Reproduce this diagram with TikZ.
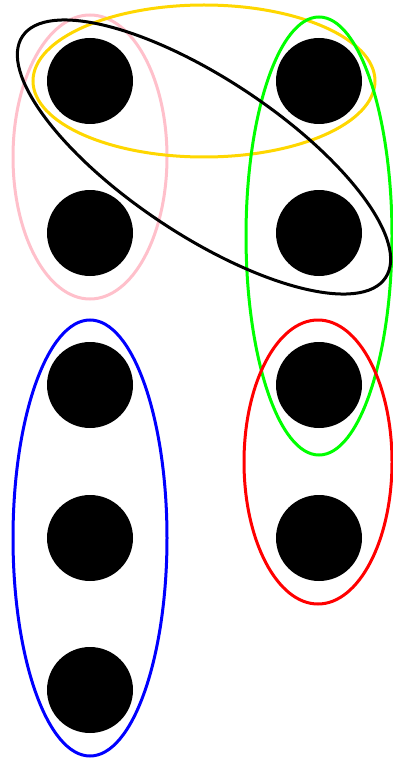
\documentclass[tikz,border=0pt]{standalone}
\usetikzlibrary{shapes.geometric}
\definecolor{pinkc}{RGB}{255,192,203}
\definecolor{goldc}{RGB}{255,215,0}
\definecolor{greenc}{RGB}{0,255,0}
\definecolor{redc}{RGB}{255,0,0}
\definecolor{bluec}{RGB}{0,0,255}
\tikzset{
  vert/.style={circle, fill=black, minimum size=86pt, inner sep=0pt},
  hedge/.style={ellipse, draw, line width=3pt, inner sep=0pt}
}
\begin{document}
\begin{tikzpicture}[x=1pt,y=-1pt]
\useasboundingbox (0,0) rectangle (392,762);
\node[vert] (v1) at (90,81) {};
\node[vert] (v2) at (319,81) {};
\node[vert] (v3) at (90,233) {};
\node[vert] (v4) at (319,233) {};
\node[vert] (v5) at (90,385) {};
\node[vert] (v6) at (319,385) {};
\node[vert] (v7) at (90,538) {};
\node[vert] (v8) at (319,538) {};
\node[vert] (v9) at (90,690) {};
\node[hedge, pinkc, minimum width=154pt, minimum height=284pt] (ep) at (90,157) {};
\node[hedge, goldc, minimum width=342pt, minimum height=152pt] (ey) at (204,81) {};
\node[hedge, greenc, minimum width=146pt, minimum height=438pt] (eg) at (319,236) {};
\node[hedge, redc, minimum width=148pt, minimum height=284pt] (er) at (318,462) {};
\node[hedge, bluec, minimum width=154pt, minimum height=436pt] (eb) at (90,538) {};
\node[hedge, black, minimum width=436pt, minimum height=156pt, rotate=-33.6] (ek) at (204,157) {};
\end{tikzpicture}
\end{document}
